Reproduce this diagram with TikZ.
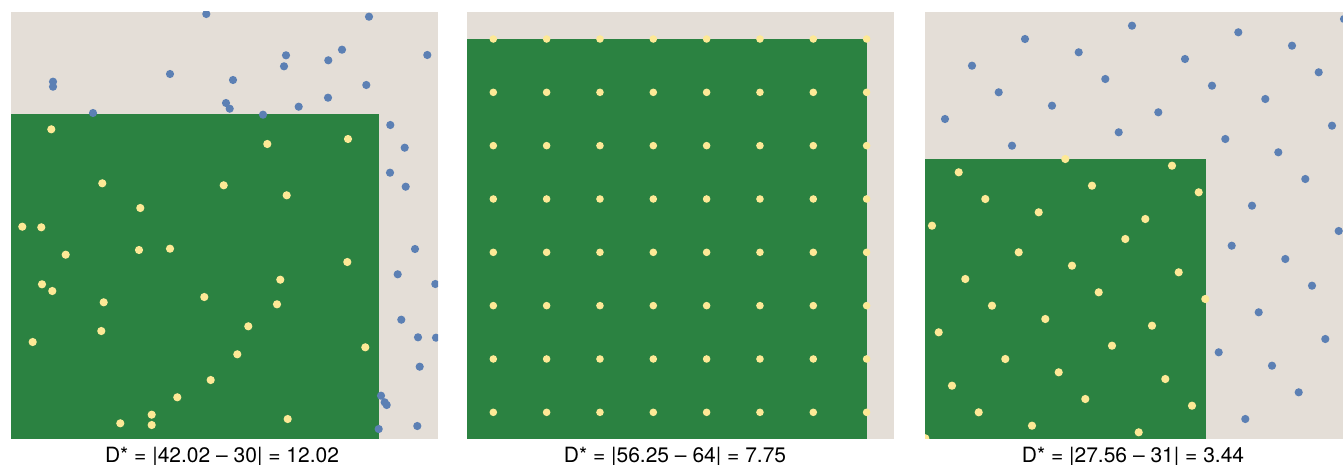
\documentclass[tikz,border=0pt]{standalone}
\usepackage{fontspec}
\setmainfont{TeX Gyre Heros}
\definecolor{bgc}{RGB}{228,222,215}
\definecolor{grn}{RGB}{43,130,65}
\definecolor{blu}{RGB}{92,128,180}
\definecolor{yel}{RGB}{253,233,150}
\tikzset{
  bgbox/.style={fill=bgc},
  inbox/.style={fill=grn},
  bdot/.style={fill=blu},
  ydot/.style={fill=yel},
  lbl/.style={anchor=base, inner sep=0pt, font=\fontsize{21}{24}\selectfont}
}
\begin{document}
\begin{tikzpicture}[x=1pt,y=-1pt]
\useasboundingbox (0,0) rectangle (1343,465);
% Panel 1
\begin{scope}
\clip (10.5,12) rectangle (438,438.7);
\fill[bgbox] (10.5,12) rectangle (438,438.7);
\fill[inbox] (10.5,114) rectangle (379,438.7);
\foreach \x/\y in {51.3/129.3,267.3/144,348/139,102.3/183.3,223.7/185.3,286.7/195.3,140.3/208,22.3/226.7,41.3/227.3,65.7/254.7,139/250,170/248.7,347.3/262,42/284.3,52.3/291,280.3/279.7,103.7/302.3,204.3/297,277/304.3,101.3/331,248.3/326.3,32.7/342,237.3/354.3,365.3/347.3,210.7/380,177.3/397.3,151.7/414.7,120.3/423.3,151.7/425,287.7/419}
  \fill[ydot] (\x,\y) circle (4.1);
\foreach \x/\y in {206.3/14,369/16.7,286/55.3,342/49.7,328.3/60.3,427.3/55,284/66.3,53/81.7,53/86.7,170/74,233/80,366.3/85,328/97.7,226/103,229.7/108.7,298.7/106.7,93/113,263/114.7,390.3/125,404.7/147.7,390/172.7,405.7/186.7,415/249,397.7/274.3,435.3/284,401.3/319.7,418/337.3,436/337.7,419.7/366.7,381/395.7,384.7/402.3,386.7/405,378.7/429,417.3/426}
  \fill[bdot] (\x,\y) circle (4.1);
\end{scope}
% Panel 2
\begin{scope}
\clip (467,12) rectangle (894,438.7);
\fill[bgbox] (467,12) rectangle (894,438.7);
\fill[inbox] (467,39) rectangle (867,438.7);
\foreach \i in {0,...,7}
  \foreach \j in {0,...,7}
    \fill[ydot] (493.3+53.33*\i,39+53.33*\j) circle (3.8);
\end{scope}
% Panel 3
\begin{scope}
\clip (925,12) rectangle (1343,438.7);
\fill[bgbox] (925,12) rectangle (1343,438.7);
\fill[inbox] (925,159) rectangle (1206,438.7);
\foreach \x/\y in {1065.3/159,958.7/172.3,1172/165.7,1092/185.7,1198.7/192.3,985.3/199,1038.7/212.3,1145.3/219,932/225.7,1125.3/239,1018.7/252.3,1072/265.7,1178.7/272.3,965.3/279,1098.7/292.3,1205.3/299,992/305.7,1045.3/319,1152/325.7,938.7/332.3,1112/345.7,1005.3/359,1058.7/372.3,1165.3/379,952/385.7,1085.3/399,1192/405.7,978.7/412.3,1032/425.7,1138.7/432.3,925.3/438.3}
  \fill[ydot] (\x,\y) circle (4.1);
\foreach \x/\y in {1132/25.7,1344/19,1025/39,1238.3/32.3,1078.7/52.3,1292/45.7,972/65.7,1185/59,1105.3/79,1318.7/72.3,998.7/92.3,1212/85.7,1052/105.7,1265.3/99,945/119,1158.3/112.3,1332/125.7,1118.7/132.3,1012/145.7,1225.3/139,1278.3/152.3,1305.3/179,1252/205.7,1338.7/231,1231.7/245.7,1285.3/259,1312/285.7,1258.7/312.3,1325.3/339,1218.7/352.3,1272/365.7,1298.7/392.3,1245.3/419}
  \fill[bdot] (\x,\y) circle (4.1);
\end{scope}
% Labels
\node[lbl] (l1) at (222,462.5) {D* = |42.02 – 30| = 12.02};
\node[lbl] (l2) at (675,462.5) {D* = |56.25 – 64| = 7.75};
\node[lbl] (l3) at (1133,462.5) {D* = |27.56 – 31| = 3.44};
\end{tikzpicture}
\end{document}
